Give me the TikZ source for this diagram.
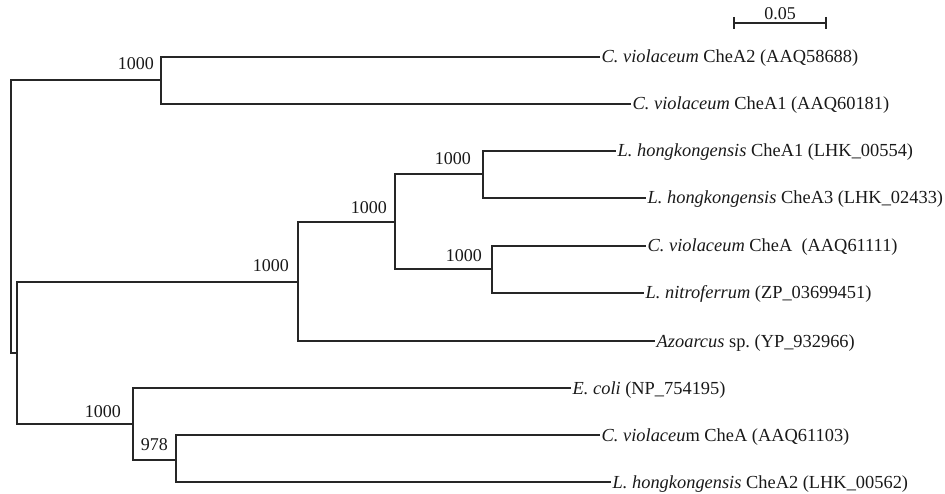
\documentclass[tikz,border=0pt]{standalone}
\usepackage{fontspec}
\setmainfont{Liberation Serif}
\begin{document}
\begin{tikzpicture}[x=1pt,y=-1pt,
  br/.style={line width=1.4pt,draw=black!85},
  leaf/.style={anchor=west,inner xsep=1.5pt,inner ysep=0pt,text height=12pt,text depth=0pt,font=\fontsize{18.4}{20}\selectfont,text=black!90},
  boot/.style={anchor=east,inner sep=0pt,font=\fontsize{18}{20}\selectfont,text=black!90}]
\useasboundingbox (0,0) rectangle (945,494);
% internal nodes
\coordinate (R) at (11,216);
\coordinate (A) at (161,80);
\coordinate (B) at (17,353);
\coordinate (C) at (298,282);
\coordinate (D) at (395,222);
\coordinate (E) at (483,174);
\coordinate (F) at (492,269);
\coordinate (G) at (133,424);
\coordinate (H) at (176,460);
% leaves
\node[leaf] (l1) at (600,57) {\textit{C. violaceum} CheA2 (AAQ58688)};
\node[leaf] (l2) at (631,104) {\textit{C. violaceum} CheA1 (AAQ60181)};
\node[leaf] (l3) at (616,151) {\textit{L. hongkongensis} CheA1 (LHK\_00554)};
\node[leaf] (l4) at (646,198) {\textit{L. hongkongensis} CheA3 (LHK\_02433)};
\node[leaf] (l5) at (646,246) {\textit{C. violaceum} CheA~ (AAQ61111)};
\node[leaf] (l6) at (644,293) {\textit{L. nitroferrum} (ZP\_03699451)};
\node[leaf] (l7) at (655,341) {\textit{Azoarcus} sp.\ (YP\_932966)};
\node[leaf] (l8) at (571,388) {\textit{E. coli} (NP\_754195)};
\node[leaf] (l9) at (600,435) {\textit{C. violaceu}m CheA (AAQ61103)};
\node[leaf] (l10) at (611,482) {\textit{L. hongkongensis} CheA2 (LHK\_00562)};
% branches
\draw[br] (A) -| (R) |- (B);
\draw[br] (C) -| (B) |- (G);
\draw[br] (A) |- (l1.west);
\draw[br] (A) |- (l2.west);
\draw[br] (D) -| (C) |- (l7.west);
\draw[br] (E) -| (D) |- (F);
\draw[br] (E) |- (l3.west);
\draw[br] (E) |- (l4.west);
\draw[br] (F) |- (l5.west);
\draw[br] (F) |- (l6.west);
\draw[br] (G) |- (l8.west);
\draw[br] (H) -| (G);
\draw[br] (H) |- (l9.west);
\draw[br] (H) |- (l10.west);
% bootstrap values
\node[boot] (bA) at (154,64) {1000};
\node[boot] (bC) at (289,266) {1000};
\node[boot] (bD) at (387,208) {1000};
\node[boot] (bE) at (471,159) {1000};
\node[boot] (bF) at (482,256) {1000};
\node[boot] (bG) at (121,412) {1000};
\node[boot] (bH) at (168,445) {978};
% scale bar
\coordinate (s1) at (734,23);
\coordinate (s2) at (826,23);
\draw[br,line width=1.2pt] (s1) -- (s2);
\draw[br,line width=1.2pt] ([yshift=6pt]s1) -- ([yshift=-6pt]s1);
\draw[br,line width=1.2pt] ([yshift=6pt]s2) -- ([yshift=-6pt]s2);
\node[inner sep=0pt,font=\fontsize{18}{20}\selectfont,text=black!90] (sl) at (780,14) {0.05};
\end{tikzpicture}
\end{document}
